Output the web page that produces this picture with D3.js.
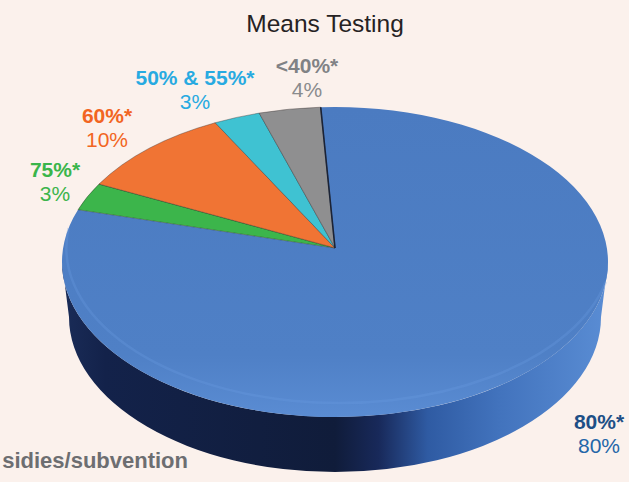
<!DOCTYPE html>
<html>
<head>
<meta charset="utf-8">
<script src="https://cdn.jsdelivr.net/npm/d3@7"></script>
<style>
  html, body { margin: 0; padding: 0; background: #fbf1ec; }
  svg { display: block; font-family: "Liberation Sans", Arial, Helvetica, sans-serif; }
</style>
</head>
<body>
<svg id="chart" width="629" height="482"></svg>
<script>
// ── data ────────────────────────────────────────────────────────────────
const categories = ["80%*", "75%*", "60%*", "50% & 55%*", "<40%*"];
const shares     = [80, 3, 10, 3, 4];
const valueLabels = ["80%", "3%", "10%", "3%", "4%"];

// ── styles ──────────────────────────────────────────────────────────────
const sliceColors = ["url(#topBlue)", "#3cb54b", "#f07434", "#3fc2d2", "#8f8f90"];
const labelBold   = ["#1d4f86", "#39b54a", "#f26522", "#27aae1", "#808285"];
const labelNorm   = ["#2466a8", "#3cb44b", "#f26522", "#27aae1", "#8a8b8d"];
// label anchor [x, baseline of first line] for each slice
const labelPos    = [[599, 429], [55, 177], [107, 123], [195, 85], [307, 73]];

// ── geometry ────────────────────────────────────────────────────────────
const W = 629, H = 482;
const cx = 335, cy = 262, rx = 273, ry = 155;
const apex = [335, 248];          // perspective centre of the disc
const depth = 55, rxBottom = 266;

const svg = d3.select("#chart");

const defs = svg.append("defs");
const topGrad = defs.append("linearGradient")
    .attr("id", "topBlue").attr("gradientUnits", "userSpaceOnUse")
    .attr("x1", 0).attr("y1", cy - ry).attr("x2", 0).attr("y2", cy + ry);
topGrad.append("stop").attr("offset", 0).attr("stop-color", "#4b7bc1");
topGrad.append("stop").attr("offset", 0.8).attr("stop-color", "#4f80c6");
topGrad.append("stop").attr("offset", 1).attr("stop-color", "#5a8cd3");

const sideGrad = defs.append("linearGradient")
    .attr("id", "sideBlue").attr("gradientUnits", "userSpaceOnUse")
    .attr("x1", cx - rx).attr("y1", 0).attr("x2", cx + rx).attr("y2", 0);
[[0, "#1a2c58"], [0.08, "#13224a"], [0.5, "#101c3a"], [0.58, "#18295a"],
 [0.67, "#2f5ba3"], [0.8, "#4273bd"], [1, "#5a8dd4"]]
  .forEach(([o, c]) => sideGrad.append("stop").attr("offset", o).attr("stop-color", c));

// ── background ──────────────────────────────────────────────────────────
svg.append("rect").attr("width", W).attr("height", H).attr("fill", "#fbf1ec");

// ── title ───────────────────────────────────────────────────────────────
svg.append("text")
    .attr("x", 325).attr("y", 32)
    .attr("text-anchor", "middle")
    .attr("fill", "#262223")
    .style("font-size", "24.5px")
    .text("Means Testing");

// ── pie layout ──────────────────────────────────────────────────────────
const start = -3.3 * Math.PI / 180;
const pie = d3.pie().sort(null).startAngle(start).endAngle(start + 2 * Math.PI);
const arcs = pie(shares);

// plain ellipse point by parametric angle (used for the side wall)
const rim = (a, rX = rx, yC = cy) => [cx + rX * Math.sin(a), yC - ry * Math.cos(a)];

// ray from the apex at pie angle a, hitting the top ellipse
function rayHit(a) {
    const v = (apex[1] - cy) / ry, du = Math.sin(a), dv = -Math.cos(a);
    const t = -v * dv + Math.sqrt(v * v * dv * dv - v * v + 1);
    return [cx + rx * t * du, cy + ry * (v + t * dv)];
}

// side (front wall)
const L = rim(-Math.PI / 2), R = rim(Math.PI / 2);
const Lb = rim(-Math.PI / 2, rxBottom, cy + depth), Rb = rim(Math.PI / 2, rxBottom, cy + depth);
svg.append("path")
    .attr("d", `M${L}A${rx},${ry} 0 0 0 ${R}L${Rb}A${rxBottom},${ry} 0 0 1 ${Lb}Z`)
    .attr("fill", "url(#sideBlue)");

// top face slices
const slicePath = d => {
    const p0 = rayHit(d.startAngle), p1 = rayHit(d.endAngle);
    const large = d.endAngle - d.startAngle > Math.PI ? 1 : 0;
    return `M${apex}L${p0}A${rx},${ry} 0 ${large} 1 ${p1}Z`;
};

svg.append("g").selectAll("path")
    .data(arcs)
    .join("path")
    .attr("d", slicePath)
    .attr("fill", (d, i) => sliceColors[i])
    .attr("stroke", (d, i) => i === 0 ? "none" : "rgba(40,30,30,0.45)")
    .attr("stroke-width", 0.8)
    .attr("stroke-linejoin", "round");

// dark seam between blue and gray at the top
const seam = rayHit(arcs[0].startAngle);
svg.append("line")
    .attr("x1", apex[0]).attr("y1", apex[1])
    .attr("x2", seam[0]).attr("y2", seam[1])
    .attr("stroke", "#1b2336").attr("stroke-width", 1.6);

// soft light rim along the front edge
svg.append("path")
    .attr("d", `M${rim(-1.35)}A${rx},${ry} 0 0 0 ${rim(1.7)}`)
    .attr("fill", "none")
    .attr("stroke", "#6b9ce0").attr("stroke-opacity", 0.3).attr("stroke-width", 2.5);

// ── labels ──────────────────────────────────────────────────────────────
const labels = svg.append("g").selectAll("g")
    .data(categories)
    .join("g")
    .attr("transform", (d, i) => `translate(${labelPos[i][0]},${labelPos[i][1]})`)
    .attr("text-anchor", "middle");

labels.append("text")
    .attr("fill", (d, i) => labelBold[i])
    .style("font-size", "21px")
    .style("font-weight", "bold")
    .text(d => d);

labels.append("text")
    .attr("y", 24)
    .attr("fill", (d, i) => labelNorm[i])
    .style("font-size", "21px")
    .text((d, i) => valueLabels[i]);

// ── footer ──────────────────────────────────────────────────────────────
svg.append("text")
    .attr("x", 188).attr("y", 468)
    .attr("text-anchor", "end")
    .attr("fill", "#6d6e71")
    .style("font-size", "22px")
    .style("font-weight", "bold")
    .text("sidies/subvention");
</script>
</body>
</html>
